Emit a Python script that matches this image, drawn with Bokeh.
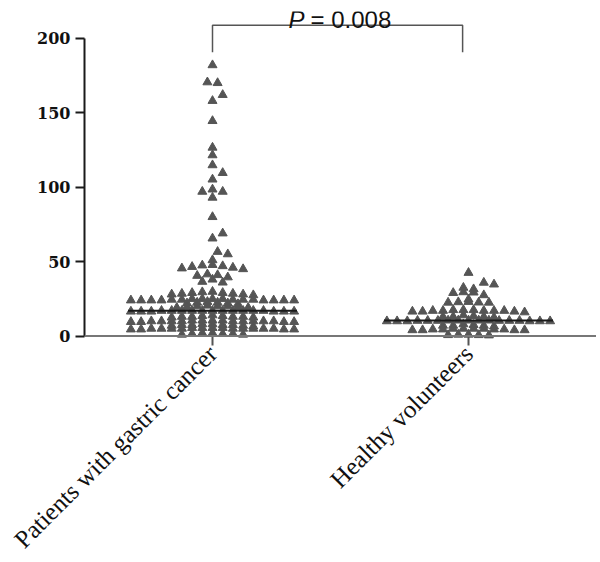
import math
import numpy as np
from bokeh.plotting import figure
from bokeh.models import FixedTicker, Label, Span
from bokeh.embed import file_html
from bokeh.resources import INLINE

# ---------------- data ----------------
categories = ["Patients with gastric cancer", "Healthy volunteers"]
category_pos = [1, 2]

gastric = [
    182.0, 170.5, 170.0, 162.0, 158.0, 144.5, 126.6, 121.5, 114.8, 109.6,
    105.2, 98.5, 97.0, 97.0, 93.0, 80.0, 69.0, 65.6, 56.6, 55.0, 51.0,
    47.8, 47.5, 47.0, 46.5, 46.0, 45.5, 45.0,
    41.5, 41.0, 40.5, 39.5,
    38.0, 36.5, 36.0,
    29.8, 29.5, 29.0, 29.0, 28.5, 28.5, 28.0, 28.0, 27.5,
    24.0, 24.5, 24.0, 25.0, 24.0, 24.5, 25.0, 24.0, 24.5, 24.0, 25.0, 24.0, 24.5, 24.0, 25.0, 24.0, 24.5,
    22.0, 22.5, 21.5, 23.0, 22.0, 22.5,
    19.5, 20.0, 19.0, 20.5, 19.5, 20.0, 19.0, 20.0,
    17.0, 16.5, 17.0, 16.5, 17.0, 17.0, 16.5, 17.0, 17.0, 16.5, 17.0, 17.0, 16.5, 17.0, 17.0, 16.5, 17.0,
    13.0, 13.5, 12.5, 13.0, 14.0, 13.0, 12.5, 13.5, 13.0,
    10.0, 10.5, 10.0, 9.5, 10.0, 10.5, 10.0, 9.5, 10.0, 10.5, 10.0, 9.5, 10.0, 10.5, 10.0, 9.5, 10.0,
    7.5, 7.0, 8.0, 7.5, 7.0, 8.0, 7.5, 6.5, 7.5,
    5.0, 4.5, 5.0, 5.5, 5.0, 4.5, 5.0, 5.5, 5.0, 4.5, 5.0, 5.5, 5.0, 4.5, 5.0, 5.5, 5.0,
    1.5, 2.0, 1.0, 1.5, 2.0, 1.0, 1.5,
]

healthy = [
    42.5,
    35.9, 34.7,
    32.5, 31.5,
    29.5, 29.3, 29.0, 27.5,
    24.6,
    23.0, 22.8, 22.6, 22.5, 22.5,
    17.0, 17.5, 16.5, 17.0, 17.5, 16.5, 17.0, 17.5, 16.0, 17.0, 16.5, 17.0,
    13.0, 13.5, 12.5, 13.0, 14.0, 13.0,
    10.3, 10.0, 10.5, 10.3, 10.0, 10.5, 10.3, 10.0, 10.5, 10.3, 10.0, 10.5, 10.3, 10.0, 10.5, 10.3, 10.0,
    7.0, 7.5, 6.5, 7.0, 8.0, 7.0,
    4.5, 4.0, 5.0, 4.5, 4.0, 5.0, 4.5, 4.0, 5.0, 4.5, 4.0, 5.0,
    0.7, 1.0, 0.5, 0.7, 1.0,
]

y_ticks = [0, 50, 100, 150, 200]
p_label = "P"
p_text = "= 0.008"

# ---------------- layout constants ----------------
FRAME_W, FRAME_H = 512, 329
X_START, X_END = 0.5, 2.5
Y_START, Y_END = -3, 218
PX_X = FRAME_W / (X_END - X_START)
PX_Y = FRAME_H / (Y_END - Y_START)
BIN = 3.0                 # value bin height for the dot layout
STEP = 10.2 / PX_X        # horizontal spacing between neighbours
HY = 7.5 / PX_Y           # vertical collision distance for sparse rows


def swarm(vals, center):
    vals = np.asarray(vals, float)
    bins = {}
    for i, v in enumerate(vals):
        bins.setdefault(int(v // BIN), []).append(i)
    xs = np.zeros(len(vals))
    placed = []
    for b in sorted(bins):
        idx = sorted(bins[b], key=lambda i: -vals[i])
        n = len(idx)
        slots = sorted([k - (n - 1) / 2 for k in range(n)], key=lambda s: (abs(s), s))
        offs = {i: s * STEP for i, s in zip(idx, slots)}
        shift = 0.0
        if n <= 3:
            for cand in [0, 1, -1, 2, -2]:
                sh = cand * STEP
                ok = True
                for i in idx:
                    for (ox, oy) in placed:
                        if abs(offs[i] + sh - ox) < 0.6 * STEP and abs(vals[i] - oy) < HY:
                            ok = False
                if ok:
                    shift = sh
                    break
        for i in idx:
            xs[i] = center + offs[i] + shift
            placed.append((offs[i] + shift, vals[i]))
    return xs


p = figure(frame_width=FRAME_W, frame_height=FRAME_H,
           x_range=(X_START, X_END), y_range=(Y_START, Y_END),
           output_backend="svg", toolbar_location=None,
           min_border_left=84, min_border_right=0, min_border_top=11, min_border_bottom=216)
p.outline_line_color = None
p.xgrid.visible = False
p.ygrid.visible = False
p.background_fill_color = "white"
p.border_fill_color = "white"

# y axis
p.yaxis.ticker = FixedTicker(ticks=y_ticks)
p.yaxis.bounds = (0, 200)
p.yaxis.axis_line_width = 2
p.yaxis.axis_line_color = "#1a1a1a"
p.yaxis.major_tick_line_width = 2
p.yaxis.major_tick_line_color = "#1a1a1a"
p.yaxis.major_tick_out = 9
p.yaxis.major_tick_in = 0
p.yaxis.minor_tick_line_color = None
p.yaxis.major_label_text_font = "DejaVu Serif"
p.yaxis.major_label_text_font_style = "bold"
p.yaxis.major_label_text_font_size = "16px"
p.yaxis.major_label_text_color = "#111111"
p.yaxis.major_label_standoff = 5

# x axis
p.xaxis.ticker = FixedTicker(ticks=category_pos)
p.xaxis.major_label_overrides = {c: t for c, t in zip(category_pos, categories)}
p.xaxis.major_label_orientation = math.pi / 4
p.xaxis.axis_line_color = None
p.xaxis.major_tick_in = 4
p.xaxis.major_tick_out = 5
p.xaxis.major_tick_line_width = 2
p.xaxis.major_tick_line_color = "#555555"
p.xaxis.minor_tick_line_color = None
p.xaxis.major_label_text_font = "Liberation Serif"
p.xaxis.major_label_text_font_size = "25px"
p.xaxis.major_label_text_color = "#111111"
p.xaxis.major_label_standoff = 4

p.add_layout(Span(location=0, dimension="width", line_color="#777777", line_width=2))

# points
for vals, c in zip([gastric, healthy], category_pos):
    xs = swarm(vals, c)
    p.scatter(xs, vals, marker="triangle", size=9, fill_color="#555555", line_color="#555555")

# medians
MED_HALF = 0.33
meds = [float(np.median(gastric)), float(np.median(healthy))]
p.segment(x0=[c - MED_HALF for c in category_pos], x1=[c + MED_HALF for c in category_pos],
          y0=meds, y1=meds, line_color="#1a1a1a", line_width=2)

# significance bracket
BR_LOW, BR_HIGH = 190.6, 208.8
BR_RIGHT = 1.977
p.line([1, 1, BR_RIGHT, BR_RIGHT], [BR_LOW, BR_HIGH, BR_HIGH, BR_LOW], line_color="#555555", line_width=1.5)

p.add_layout(Label(x=1.297, y=212.5, text=p_label, text_font="Liberation Sans",
                   text_font_style="italic", text_font_size="24px", text_color="#111111",
                   text_baseline="alphabetic", text_align="left"))
p.add_layout(Label(x=1.297, y=212.5, x_offset=22, text=p_text, text_font="Liberation Sans",
                   text_font_size="24px", text_color="#111111",
                   text_baseline="alphabetic", text_align="left"))

open("out.html", "w").write(file_html(p, INLINE))
